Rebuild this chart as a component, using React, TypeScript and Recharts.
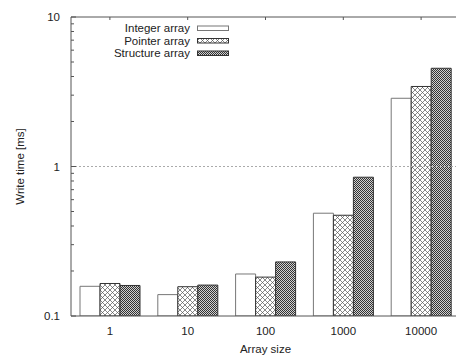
import React from 'react';
import { BarChart, Bar, XAxis, YAxis, ReferenceLine, Legend } from 'recharts';

const sizes = ['1', '10', '100', '1000', '10000'];
const integerArray = [0.158, 0.139, 0.191, 0.487, 2.86];
const pointerArray = [0.165, 0.157, 0.182, 0.472, 3.43];
const structureArray = [0.16, 0.161, 0.23, 0.848, 4.54];
const yTicks = [0.1, 0.2, 0.3, 0.4, 0.5, 0.6, 0.7, 0.8, 0.9, 1, 2, 3, 4, 5, 6, 7, 8, 9, 10];
const yMajor = [0.1, 1, 10];
const seriesNames = ['Integer array', 'Pointer array', 'Structure array'];

const data = sizes.map((s, i) => ({
  size: s,
  integer: integerArray[i],
  pointer: pointerArray[i],
  structure: structureArray[i],
}));

const FONT = '"Liberation Sans", Arial, sans-serif';
const AXIS = '#555';
const TEXT = '#222';

const fills = ['#ffffff', 'url(#patCross)', 'url(#patDense)'];
const strokes = ['#777', '#333', '#333'];

const YTick = (props: any) => {
  const { x, y, payload } = props;
  const v = payload.value;
  const major = yMajor.includes(v);
  return (
    <g>
      <line x1={x} x2={x + (major ? 5 : 3)} y1={y} y2={y} stroke={AXIS} />
      {major && (
        <text x={x - 11} y={y} dy="0.35em" textAnchor="end" fontFamily={FONT} fontSize={11.5} fill={TEXT}>
          {String(v)}
        </text>
      )}
    </g>
  );
};

const XTick = (props: any) => {
  const { x, y, payload } = props;
  return (
    <text x={x} y={y} dy="0.71em" textAnchor="middle" fontFamily={FONT} fontSize={11.5} fill={TEXT}>
      {payload.value}
    </text>
  );
};

const TopTick = (props: any) => {
  const { x, y } = props;
  return <line x1={x} x2={x} y1={y} y2={y + 3} stroke={AXIS} />;
};

const LegendContent = () => (
  <svg width={140} height={45}>
    {seriesNames.map((n, i) => (
      <g key={n}>
        <text x={90} y={10 + i * 12.5} dy="0.35em" textAnchor="end" fontFamily={FONT} fontSize={11.5} fill={TEXT}>
          {n}
        </text>
        <rect x={97.5} y={8 + i * 12.5} width={31} height={4.5} fill={fills[i]} stroke={strokes[i]} />
      </g>
    ))}
  </svg>
);

export default function App() {
  return (
    <div style={{ position: 'absolute', left: 0, top: 0, width: 456, height: 356, overflow: 'hidden', background: '#fff' }}>
      <svg width={0} height={0} style={{ position: 'absolute' }}>
        <defs>
          <pattern id="patCross" patternUnits="userSpaceOnUse" width={5} height={5}>
            <rect width={5} height={5} fill="#fff" />
            <path d="M0,0 L5,5 M5,0 L0,5" stroke="#555" strokeWidth={0.7} />
          </pattern>
          <pattern id="patDense" patternUnits="userSpaceOnUse" width={2} height={2}>
            <rect width={2} height={2} fill="#d0d0d0" />
            <rect x={0} y={0} width={1} height={1} fill="#333" />
            <rect x={1} y={1} width={1} height={1} fill="#333" />
          </pattern>
        </defs>
      </svg>
      <BarChart
        width={470}
        height={356}
        data={data}
        margin={{ top: 16, right: 10, left: 0, bottom: 0 }}
        barCategoryGap={9}
        barGap={0}
      >
        <XAxis
          dataKey="size"
          height={40}
          tickSize={0}
          tickMargin={11}
          tickLine={false}
          axisLine={{ stroke: AXIS }}
          tick={<XTick />}
          label={{ value: 'Array size', position: 'insideBottom', offset: 3, fontFamily: FONT, fontSize: 11.5, fill: TEXT }}
        />
        <XAxis
          xAxisId="top"
          dataKey="size"
          orientation="top"
          height={1}
          tickSize={0}
          tickMargin={0}
          tickLine={false}
          axisLine={{ stroke: AXIS }}
          tick={<TopTick />}
        />
        <YAxis
          scale="log"
          domain={[0.1, 10]}
          allowDataOverflow
          ticks={yTicks}
          interval={0}
          width={71}
          tickSize={0}
          tickMargin={0}
          tickLine={false}
          axisLine={{ stroke: AXIS }}
          tick={<YTick />}
          label={(p: any) => {
            const vb = p.viewBox || { x: 0, y: 17, width: 71, height: 299 };
            const cx = vb.x + 20;
            const cy = vb.y + vb.height / 2;
            return (
              <text x={cx} y={cy} transform={`rotate(-90 ${cx} ${cy})`} textAnchor="middle" dominantBaseline="central" fontFamily={FONT} fontSize={11.5} fill={TEXT}>
                Write time [ms]
              </text>
            );
          }}
        />
        <ReferenceLine y={1} stroke="#aaa" strokeDasharray="2 2" />
        <Legend
          layout="vertical"
          align="center"
          verticalAlign="middle"
          content={<LegendContent />}
          wrapperStyle={{ position: 'absolute', left: 100, top: 18, width: 140, height: 45 }}
        />
        <Bar dataKey="integer" name={seriesNames[0]} fill={fills[0]} stroke={strokes[0]} isAnimationActive={false} />
        <Bar dataKey="pointer" name={seriesNames[1]} fill={fills[1]} stroke={strokes[1]} isAnimationActive={false} />
        <Bar dataKey="structure" name={seriesNames[2]} fill={fills[2]} stroke={strokes[2]} isAnimationActive={false} />
      </BarChart>
    </div>
  );
}
